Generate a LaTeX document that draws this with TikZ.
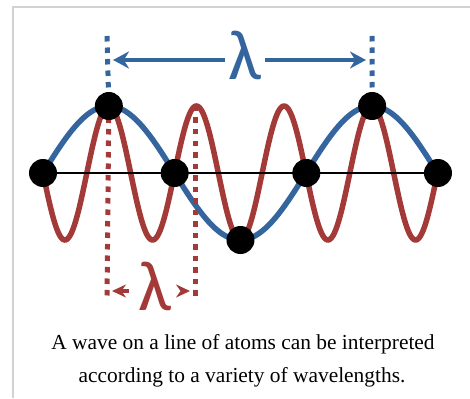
\documentclass[tikz,border=0pt]{standalone}
\usepackage{fontspec}
\setmainfont{Liberation Serif}
\newfontfamily\lamfont{Carlito}
\usetikzlibrary{arrows.meta,positioning}
\definecolor{waveBlue}{HTML}{34659E}
\definecolor{waveRed}{HTML}{A33A38}
\definecolor{frameGray}{HTML}{D2D2D2}
\tikzset{
  atom/.style={circle, fill=black, minimum size=28pt, inner sep=0pt},
  dots/.style={line width=5pt, dash pattern=on 5.5pt off 6pt},
  lam/.style={font=\lamfont\fontsize{71}{71}\selectfont, anchor=base, inner ysep=0pt}
}

\begin{document}
\begin{tikzpicture}[x=1pt, y=-1pt]
        \useasboundingbox (0,0) rectangle (470,398);
        \draw[frameGray, line width=1.5pt] (13,398) -- (13,7) -- (470,7);
        \draw[waveBlue, line width=5.5pt] plot[domain=43:438, samples=200] (\x, {173-67*sin(360*((\x-43)/263))});
        \draw[waveRed, line width=5.5pt] plot[domain=43:438, samples=400] (\x, {173+67*sin(1080*((\x-43)/263))});
        \coordinate (topB1) at (107,36);
        \coordinate (topB2) at (372,36);
        \coordinate (peakR) at (195,106);
        \coordinate (botR1) at (107,299);
        \coordinate (botR2) at (195,299);
        \foreach \i/\h in {0/0,1/1,2/0,3/-1,4/0,5/1,6/0}
          \coordinate (p\i) at ({43+65.83*\i},{173-67*\h});
        \draw[dots, waveBlue] (topB1) -- (p1);
        \draw[dots, waveBlue] (topB2) -- (p5);
        \draw[dots, waveRed] (p1) -- (botR1);
        \draw[dots, waveRed] (peakR) -- (botR2);
        \draw[line width=2.2pt] (p0) -- (p6);
        \foreach \i in {0,...,6}
          \node[atom] (a\i) at (p\i) {};
        \node[lam, text=waveBlue, inner xsep=3pt] (lamB) at (245,80) {λ};
        \node[lam, text=waveRed, inner xsep=9pt] (lamR) at (155,310) {λ};
        \coordinate (tipB1) at (113,60);
        \coordinate (tipB2) at (366,60);
        \coordinate (tipR1) at (112,291);
        \coordinate (tipR2) at (190,291);
        \draw[-{Stealth[length=16pt, width=17pt]}, line width=4.5pt, waveBlue] (lamB.west |- tipB1) -- (tipB1);
        \draw[-{Stealth[length=16pt, width=17pt]}, line width=4.5pt, waveBlue] (lamB.east |- tipB2) -- (tipB2);
        \draw[-{Stealth[length=14pt, width=13pt]}, line width=4pt, waveRed] (lamR.west |- tipR1) -- (tipR1);
        \draw[-{Stealth[length=14pt, width=13pt]}, line width=4pt, waveRed] (lamR.east |- tipR2) -- (tipR2);
        \node[font=\fontsize{21.4}{25}\selectfont, anchor=base] (cap1) at (243,349) {A wave on a line of atoms can be interpreted};
        \node[font=\fontsize{21.4}{25}\selectfont, anchor=base] (cap2) at (242,382) {according to a variety of wavelengths.};
      \end{tikzpicture}
\end{document}
